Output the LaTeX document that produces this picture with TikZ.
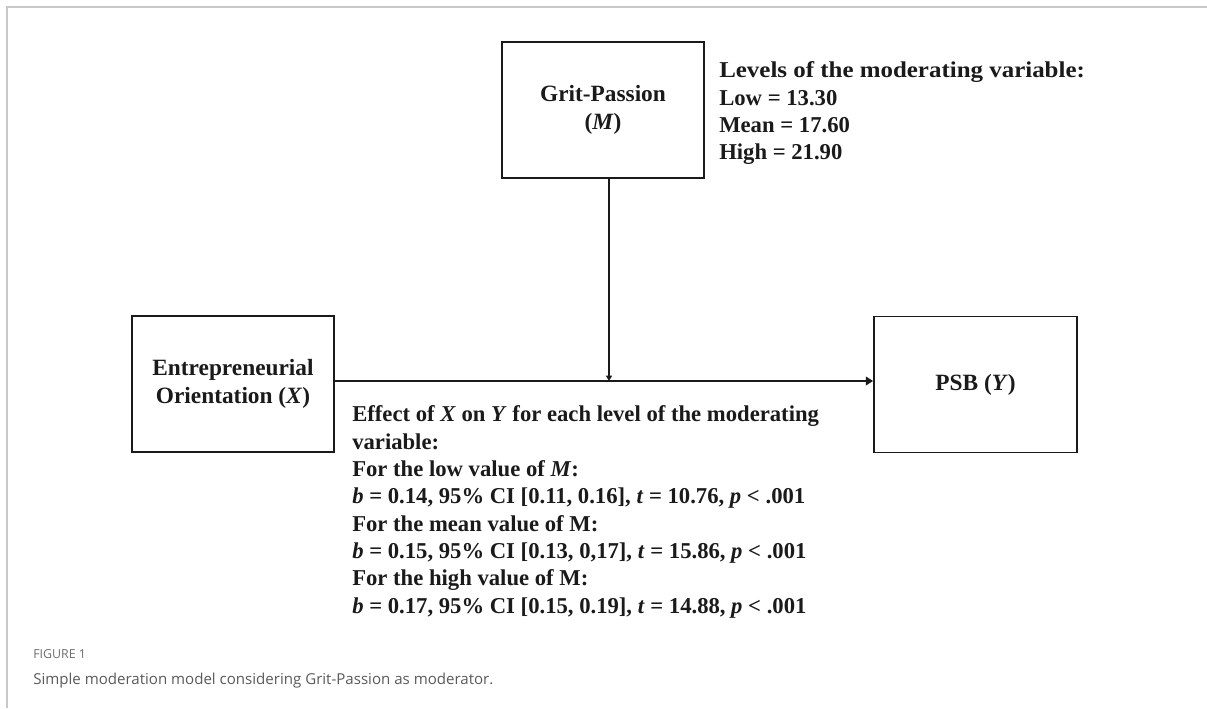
\documentclass[tikz,border=0pt]{standalone}
\usepackage{fontspec}
\setmainfont{Liberation Serif}
\newfontfamily\capfont{Open Sans}
\newfontfamily\headfont[FakeStretch=1.1]{Liberation Serif}
\usetikzlibrary{arrows.meta}
\definecolor{framegray}{HTML}{C8C8C8}
\definecolor{capgray}{HTML}{5A5A5A}
\definecolor{labgray}{HTML}{6E6E6E}
\definecolor{ink}{HTML}{1A1A1A}
\tikzset{
  varbox/.style={draw=ink, line width=1.1pt, minimum width=151.5pt, minimum height=102pt,
    inner sep=0pt, align=center, font=\fontsize{17.5}{21}\selectfont\bfseries, text=ink},
  note/.style={anchor=north west, inner sep=0pt, align=left,
    font=\fontsize{17}{20.5}\selectfont\bfseries, text=ink},
  mainpath/.style={draw=ink, line width=2.2pt, -{Triangle[length=5.5pt,width=6.5pt]}},
  modpath/.style={draw=ink, line width=1.1pt, -{Triangle[length=4pt,width=4.5pt]}},
}
\begin{document}
\begin{tikzpicture}[x=0.75pt, y=-0.75pt]
  \useasboundingbox (0,0) rectangle (1207,708);
  % panel frame (top and left edges)
  \draw[framegray, line width=1.3pt] (7,708) -- (7,7) -- (1207,7);

  % variables
  \node[varbox] (gp) at (603,110) {Grit-Passion\\(\textit{M})};
  \node[varbox] (x) at (233,384) {Entrepreneurial\\Orientation (\textit{X})};
  \node[varbox, minimum width=152.5pt] (y) at (975.5,384.5) {PSB (\textit{Y})};

  % junction of the moderator path with the main path
  \coordinate (j) at (609,381);
  \draw[mainpath] (x.east |- j) -- (y.west |- j);
  \draw[modpath] (gp.south -| j) -- (j);

  % annotations
  \node[note] (levels) at (719,61.5) {{\headfont\bfseries Levels of the moderating variable:}\\
    Low = 13.30\\Mean = 17.60\\High = 21.90};
  \node[note] (effect) at (352,405.5) {Effect of \textit{X} on \textit{Y} for each level of the moderating\\
    variable:\\
    For the low value of \textit{M}:\\
    \textit{b} = 0.14, 95\% CI [0.11, 0.16], \textit{t} = 10.76, \textit{p} {\char"3C} .001\\
    For the mean value of M:\\
    \textit{b} = 0.15, 95\% CI [0.13, 0,17], \textit{t} = 15.86, \textit{p} {\char"3C} .001\\
    For the high value of M:\\
    \textit{b} = 0.17, 95\% CI [0.15, 0.19], \textit{t} = 14.88, \textit{p} {\char"3C} .001};

  % caption
  \node[anchor=base west, inner sep=0pt, text=labgray, font=\capfont\fontsize{9.3}{11}\selectfont] (figlab) at (33,658.5) {FIGURE 1};
  \node[anchor=base west, inner sep=0pt, text=capgray, font=\capfont\fontsize{11.3}{13}\selectfont] (cap) at (33,684) {Simple moderation model considering Grit-Passion as moderator.};
\end{tikzpicture}
\end{document}
